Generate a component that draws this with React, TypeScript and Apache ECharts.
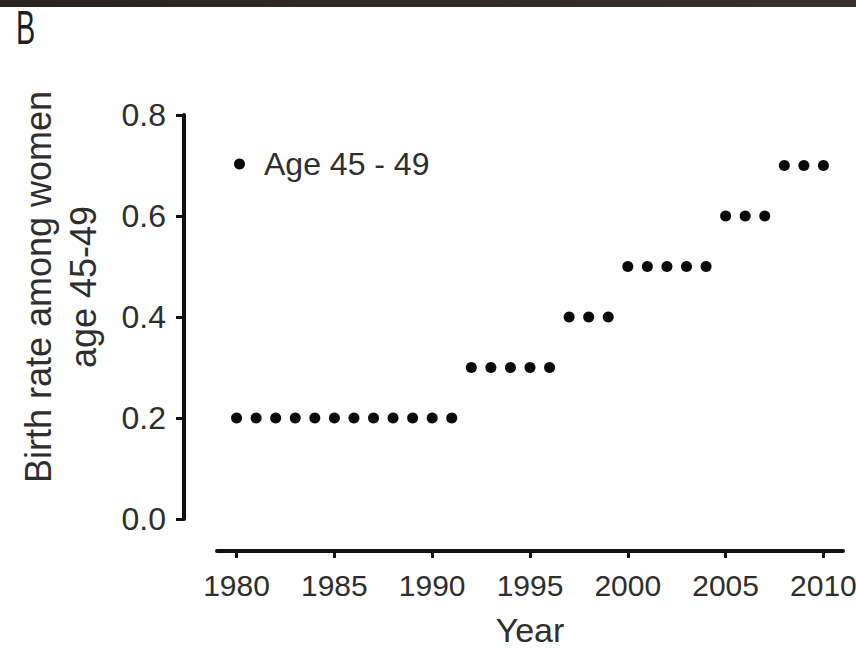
import React, { useEffect, useRef } from "react";
import * as echarts from "echarts";

// Calendar years on the horizontal axis
const years = [
  1980, 1981, 1982, 1983, 1984, 1985, 1986, 1987, 1988, 1989, 1990,
  1991, 1992, 1993, 1994, 1995, 1996, 1997, 1998, 1999, 2000, 2001,
  2002, 2003, 2004, 2005, 2006, 2007, 2008, 2009, 2010,
];

// Birth rate among women aged 45-49, one value per year
const birthRates = [
  0.2, 0.2, 0.2, 0.2, 0.2, 0.2, 0.2, 0.2, 0.2, 0.2, 0.2,
  0.2, 0.3, 0.3, 0.3, 0.3, 0.3, 0.4, 0.4, 0.4, 0.5, 0.5,
  0.5, 0.5, 0.5, 0.6, 0.6, 0.6, 0.7, 0.7, 0.7,
];

// Labelled tick positions
const yearTicks = [1980, 1985, 1990, 1995, 2000, 2005, 2010];
const rateTicks = [0, 0.2, 0.4, 0.6, 0.8];

const seriesName = "Age 45 - 49";
const xTitle = "Year";
const yTitle = "Birth rate among women\nage 45-49";
const panelLetter = "B";

const FONT = "'Liberation Sans', Arial, Helvetica, sans-serif";
const INK = "#111";
const TEXT = "#2e2e2e";

export default function App() {
  const ref = useRef<HTMLDivElement>(null);

  useEffect(() => {
    if (!ref.current) return;
    const chart = echarts.init(ref.current, null, { renderer: "svg" });
    const points = years.map((y, i) => [y, birthRates[i]]);

    chart.setOption({
      animation: false,
      backgroundColor: "#fff",
      textStyle: { fontFamily: FONT },
      grid: {
        left: 217,
        right: 13,
        top: 115,
        bottom: 131,
        containLabel: false,
        outerBoundsMode: "none",
      },
      legend: {
        show: true,
        data: [seriesName],
        left: 234,
        top: 148,
        padding: 0,
        icon: "circle",
        itemWidth: 11,
        itemHeight: 11,
        itemStyle: { color: "#0a0a0a", opacity: 1 },
        textStyle: {
          fontFamily: FONT,
          fontSize: 32,
          color: TEXT,
          padding: [0, 0, 0, 14],
        },
      },
      xAxis: {
        type: "value",
        min: 1979,
        max: 2011,
        offset: 32,
        splitLine: { show: false },
        axisLine: { show: true, onZero: false, lineStyle: { color: INK, width: 4 } },
        axisTick: {
          show: true,
          length: 7,
          lineStyle: { color: INK, width: 3 },
          customValues: yearTicks,
        },
        axisLabel: {
          customValues: yearTicks,
          fontSize: 30,
          color: TEXT,
          fontFamily: FONT,
          margin: 19,
          formatter: (v: number) => String(v),
        },
        name: xTitle,
        nameLocation: "middle",
        nameGap: 62,
        nameTextStyle: { fontSize: 34, color: TEXT, fontFamily: FONT },
      },
      yAxis: {
        type: "value",
        min: 0,
        max: 0.8,
        interval: 0.2,
        offset: 33,
        splitLine: { show: false },
        axisLine: { show: true, onZero: false, lineStyle: { color: INK, width: 4 } },
        axisTick: {
          show: true,
          length: 8,
          lineStyle: { color: INK, width: 3 },
          customValues: rateTicks,
        },
        axisLabel: {
          fontSize: 32,
          color: TEXT,
          fontFamily: FONT,
          margin: 18,
          formatter: (v: number) => v.toFixed(1),
        },
        name: yTitle,
        nameLocation: "middle",
        nameGap: 78,
        nameTextStyle: {
          fontSize: 36,
          lineHeight: 45,
          color: TEXT,
          fontFamily: FONT,
          padding: [0, 0, 0, 60],
        },
      },
      graphic: [
        {
          type: "rect",
          left: 0,
          top: 0,
          shape: { x: 0, y: 0, width: 856, height: 7 },
          style: {
            fill: new echarts.graphic.LinearGradient(0, 0, 1, 0, [
              { offset: 0, color: "#2a221e" },
              { offset: 1, color: "#3b302a" },
            ]),
          },
          silent: true,
        },
        {
          type: "text",
          x: 16,
          y: 3,
          scaleX: 0.6,
          style: {
            text: panelLetter,
            fontSize: 48,
            fontFamily: FONT,
            fill: "#1e1e1e",
            textVerticalAlign: "top",
          },
          silent: true,
        },
      ],
      series: [
        {
          name: seriesName,
          type: "scatter",
          data: points,
          symbol: "circle",
          symbolSize: 11,
          itemStyle: { color: "#0a0a0a", opacity: 1 },
        },
      ],
    });

    return () => chart.dispose();
  }, []);

  return (
    <div
      ref={ref}
      style={{ position: "fixed", left: 0, top: 0, width: 856, height: 650 }}
    />
  );
}
